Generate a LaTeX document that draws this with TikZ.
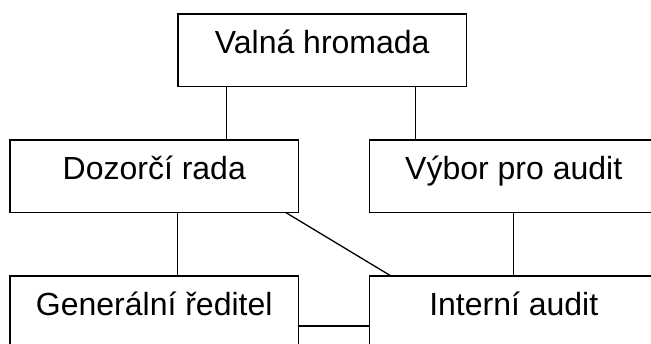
\documentclass[tikz,border=0pt]{standalone}
\usepackage{fontspec}
\setmainfont{Liberation Sans}
\begin{document}
\begin{tikzpicture}[x=1pt,y=1pt,
  box/.style={draw, line width=1.3pt, rectangle, inner sep=0pt, outer sep=0pt,
    minimum width=288.5pt, minimum height=72.5pt, anchor=north west,
    text height=14pt, text depth=7pt, font=\fontsize{32}{38}\selectfont},
  conn/.style={line width=1.3pt}]
\useasboundingbox (0,0) rectangle (651,-343);
\clip (0,0) rectangle (651,-343);
\node[box] (vh) at (178,-14) {Valná hromada};
\node[box] (dr) at (10,-140) {Dozorčí rada};
\node[box] (va) at (369.5,-140) {Výbor pro audit};
\node[box] (gr) at (10,-276) {Generální ředitel};
\node[box] (ia) at (369.5,-276) {Interní audit};
\draw[conn] ([xshift=-96pt]vh.south) -- ([xshift=-96pt]vh.south |- dr.north);
\draw[conn] ([xshift=93pt]vh.south) -- ([xshift=93pt]vh.south |- va.north);
\draw[conn] ([xshift=23.5pt]dr.south) -- ([xshift=23.5pt]dr.south |- gr.north);
\draw[conn] ([xshift=131.5pt]dr.south) -- ([xshift=21.5pt]ia.north west);
\draw[conn] (va.south) -- (ia.north);
\draw[conn] ([yshift=-50pt]gr.north east) -- ([yshift=-50pt]gr.north east -| ia.west);
\end{tikzpicture}
\end{document}
